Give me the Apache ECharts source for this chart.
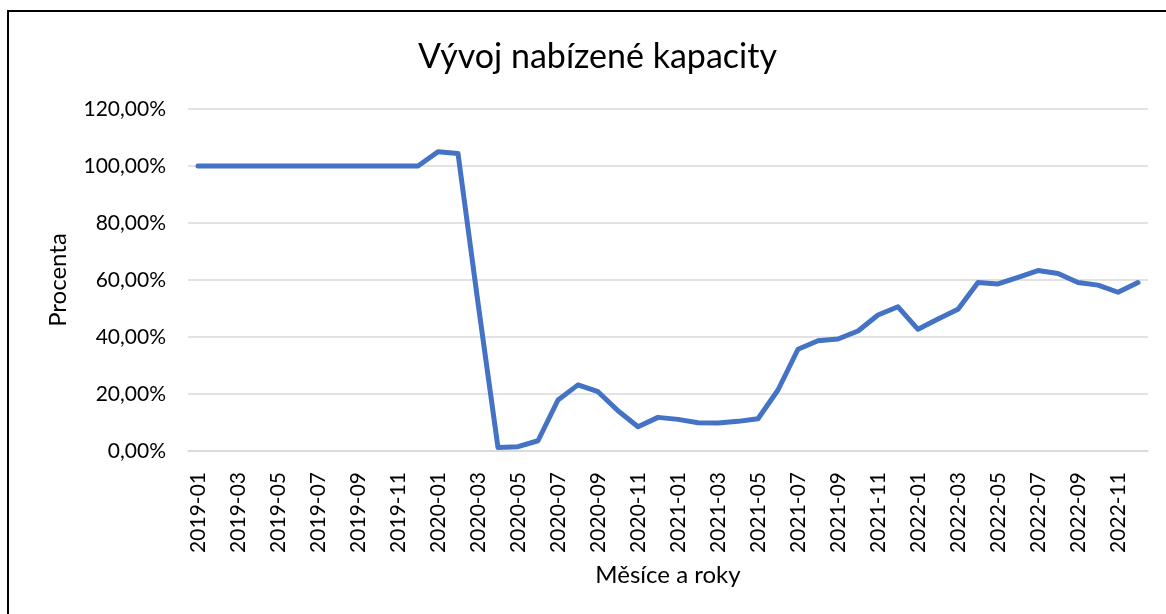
<!DOCTYPE html>
<html>
<head>
<meta charset="utf-8">
<script src="https://cdn.jsdelivr.net/npm/echarts@6/dist/echarts.min.js"></script>
<style>
    html, body { margin: 0; padding: 0; background: #fff; overflow: hidden; }
    #frame { position: absolute; left: 7px; top: 10px; width: 1300px; height: 800px; border: 2px solid #000; box-sizing: border-box; }
    #chart { position: absolute; left: 0; top: 0; width: 1166px; height: 614px; }
</style>
</head>
<body>
<div id="frame"></div>
<div id="chart"></div>
<script>
// kategorie: měsíce 2019-01 .. 2022-12
var years = [2019, 2020, 2021, 2022];
var months = ['01', '02', '03', '04', '05', '06', '07', '08', '09', '10', '11', '12'];
var categories = [];
years.forEach(function (y) {
    months.forEach(function (m) { categories.push(y + '-' + m); });
});

// nabízená kapacita v procentech
var capacity = [
    100, 100, 100, 100, 100, 100, 100, 100, 100, 100, 100, 100,
    105.0, 104.4, 52.0, 1.2, 1.5, 3.6, 17.9, 23.2, 20.8, 14.1, 8.5, 11.8,
    11.1, 9.9, 9.8, 10.4, 11.3, 21.4, 35.7, 38.7, 39.3, 42.1, 47.7, 50.6,
    42.7, 46.3, 49.7, 59.1, 58.6, 60.9, 63.3, 62.3, 59.1, 58.2, 55.7, 59.1
];

var yTicks = [0, 20, 40, 60, 80, 100, 120];

var font = 'Lato, "Noto Sans", sans-serif';
var chart = echarts.init(document.getElementById('chart'));
chart.setOption({
    animation: false,
    textStyle: { fontFamily: font },
    title: {
        text: 'Vývoj nabízené kapacity',
        left: 413,
        top: 35,
        textStyle: { fontFamily: font, fontSize: 34, fontWeight: 'normal', color: '#000' }
    },
    grid: { left: 188, right: 18, top: 109, bottom: 163 },
    xAxis: {
        type: 'category',
        data: categories,
        boundaryGap: true,
        name: 'Měsíce a roky',
        nameLocation: 'middle',
        nameGap: 112,
        nameTextStyle: { fontSize: 24, color: '#000', fontFamily: font },
        axisLine: { show: true, lineStyle: { color: '#d9d9d9', width: 1.5 } },
        axisTick: { show: false },
        axisLabel: {
            interval: 1,
            rotate: 90,
            margin: 21,
            fontSize: 21,
            color: '#000',
            fontFamily: font
        }
    },
    yAxis: {
        type: 'value',
        min: yTicks[0],
        max: yTicks[yTicks.length - 1],
        interval: 20,
        name: 'Procenta',
        nameLocation: 'middle',
        nameGap: 118,
        nameTextStyle: { fontSize: 24, color: '#000', fontFamily: font },
        axisLine: { show: false },
        axisTick: { show: false },
        splitLine: { lineStyle: { color: '#d9d9d9', width: 1.5 } },
        axisLabel: {
            margin: 22,
            fontSize: 21,
            color: '#000',
            fontFamily: font,
            formatter: function (v) { return v.toFixed(2).replace('.', ',') + '%'; }
        }
    },
    series: [{
        type: 'line',
        data: capacity,
        symbol: 'none',
        lineStyle: { color: '#4472c4', width: 5, cap: 'round', join: 'round' }
    }]
});
</script>
</body>
</html>
